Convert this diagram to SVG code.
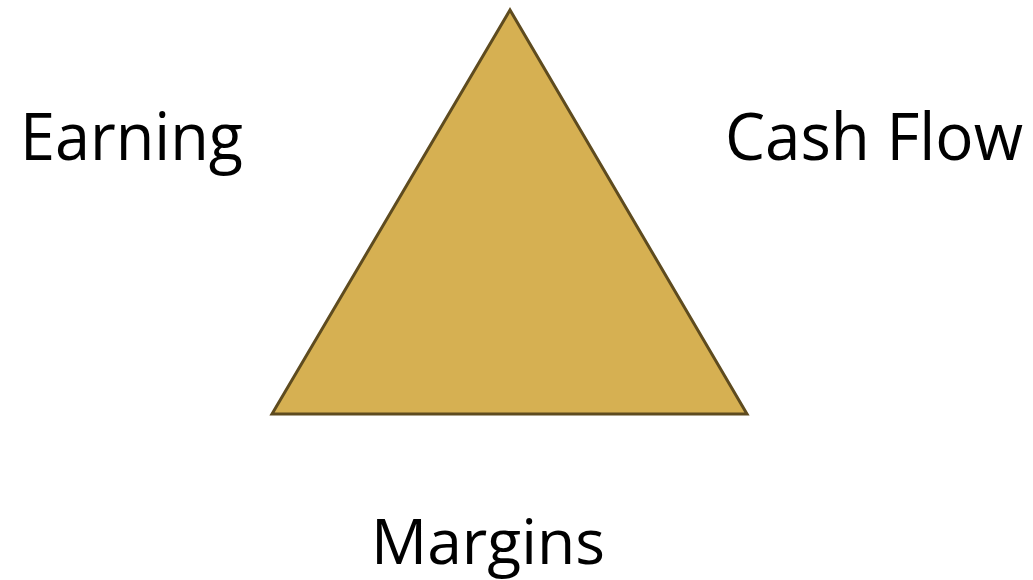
<svg xmlns="http://www.w3.org/2000/svg" width="1033" height="580" viewBox="0 0 1033 580">
<style>
.lbl{font-family:"Open Sans","Liberation Sans",sans-serif;font-size:66px;fill:#000}
.tri{fill:#D6B052;stroke:#5E4B1F;stroke-width:3;stroke-linejoin:miter}
</style>
<rect width="1033" height="580" fill="#fff"/>
<g id="triangle">
<polygon class="tri" points="510,10 272,414 747,414"/>
</g>
<g id="earning"><text class="lbl" x="20" y="160" textLength="223" lengthAdjust="spacingAndGlyphs">Earning</text></g>
<g id="cashflow"><text class="lbl" x="725" y="160" textLength="298" lengthAdjust="spacingAndGlyphs">Cash Flow</text></g>
<g id="margins"><text class="lbl" x="371" y="564" style="font-size:63px" textLength="234" lengthAdjust="spacingAndGlyphs">Margins</text></g>
<g id="connectors"></g>
</svg>
